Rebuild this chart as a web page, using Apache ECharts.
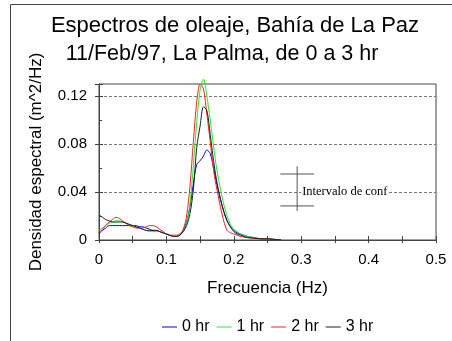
<!DOCTYPE html>
<html>
<head>
<meta charset="utf-8">
<script src="https://cdn.jsdelivr.net/npm/echarts@6/dist/echarts.min.js"></script>
<style>html,body{margin:0;padding:0;background:#fff}#c{width:452px;height:341px}</style>
</head>
<body>
<div id="c"></div>
<script>
const freq = [0,0.005,0.01,0.015,0.02,0.025,0.03,0.035,0.04,0.045,0.05,0.055,0.06,0.065,0.07,0.075,0.08,0.085,0.09,0.095,0.1,0.105,0.11,0.115,0.12,0.125,0.13,0.135,0.14,0.145,0.15,0.155,0.16,0.165,0.17,0.175,0.18,0.185,0.19,0.195,0.2,0.205,0.21,0.215,0.22,0.23,0.24,0.25,0.26,0.27];
const hr0 = [0.005,0.008,0.010,0.012,0.012,0.012,0.012,0.012,0.012,0.012,0.012,0.012,0.011,0.011,0.010,0.009,0.008,0.008,0.007,0.006,0.005,0.004,0.003,0.003,0.004,0.008,0.015,0.028,0.047,0.063,0.066,0.070,0.075,0.072,0.060,0.046,0.034,0.024,0.016,0.011,0.008,0.006,0.005,0.004,0.003,0.002,0.001,0.001,0.0005,0.0003];
const hr1 = [0.008,0.010,0.012,0.014,0.015,0.016,0.016,0.015,0.014,0.013,0.012,0.011,0.010,0.009,0.008,0.007,0.007,0.007,0.007,0.006,0.005,0.004,0.003,0.003,0.004,0.007,0.014,0.030,0.062,0.098,0.125,0.134,0.120,0.100,0.078,0.058,0.043,0.030,0.020,0.013,0.009,0.007,0.005,0.004,0.003,0.002,0.001,0.001,0.0005,0.0003];
const hr2 = [0.006,0.009,0.012,0.015,0.017,0.019,0.018,0.016,0.014,0.012,0.011,0.010,0.010,0.010,0.011,0.012,0.012,0.011,0.009,0.007,0.005,0.004,0.004,0.004,0.005,0.009,0.020,0.045,0.082,0.115,0.130,0.126,0.105,0.082,0.058,0.042,0.028,0.016,0.008,0.006,0.005,0.004,0.003,0.0025,0.002,0.0015,0.001,0.0008,0.0005,0.0003];
const hr3 = [0.021,0.019,0.017,0.016,0.015,0.015,0.015,0.015,0.014,0.013,0.012,0.011,0.010,0.009,0.008,0.008,0.008,0.008,0.007,0.006,0.005,0.004,0.003,0.003,0.004,0.007,0.012,0.022,0.042,0.077,0.095,0.111,0.108,0.088,0.066,0.048,0.035,0.024,0.016,0.011,0.007,0.005,0.004,0.003,0.002,0.0015,0.001,0.001,0.0005,0.0003];
const seriesNames = ['0 hr','1 hr','2 hr','3 hr'];
const seriesColors = ['#0000ff','#22ee22','#ff2020','#202020'];
const xTicks = [0,0.1,0.2,0.3,0.4,0.5];
const yTicks = [0,0.04,0.08,0.12];
// confidence interval marker (data units)
const ciX = 0.294, ciTop = 0.0614, ciBottom = 0.0242, ciCapHigh = 0.055, ciCapLow = 0.0284, ciCapHalf = 0.025, ciLabelY = 0.04;
const ciLabel = 'Intervalo de conf';

const allSeries = [hr0,hr1,hr2,hr3];
const chart = echarts.init(document.getElementById('c'));
const font = 'Liberation Sans, Arial, sans-serif';
const option = {
  animation:false,
  backgroundColor:'#fff',
  title:[
    {text:'Espectros de oleaje, Bahía de La Paz', left:230, textAlign:'center', top:10, textStyle:{fontFamily:font,fontSize:22,fontWeight:'normal',color:'#000'}},
    {text:'11/Feb/97, La Palma, de 0 a 3 hr', left:217, textAlign:'center', top:38, textStyle:{fontFamily:font,fontSize:21.5,fontWeight:'normal',color:'#000'}}
  ],
  graphic:[{type:'rect', shape:{x:10.5,y:4.5,width:600,height:500}, style:{fill:null, stroke:'#444', lineWidth:1}, silent:true}],
  legend:{data:seriesNames, icon:'rect', left:157, top:314, itemWidth:15, itemHeight:1, itemGap:7,
    textStyle:{fontFamily:font,fontSize:16,color:'#000'}},
  grid:{left:99, right:16, top:84, bottom:101, show:true, borderColor:'#444', borderWidth:1},
  xAxis:[{
    type:'value', min:0, max:0.5, interval:0.1,
    name:'Frecuencia (Hz)', nameLocation:'middle', nameGap:40,
    nameTextStyle:{fontFamily:font,fontSize:17,color:'#000'},
    axisLine:{lineStyle:{color:'#444'}},
    axisTick:{inside:true,length:4,lineStyle:{color:'#444'}},
    minorTick:{show:true,splitNumber:2,length:4,lineStyle:{color:'#444'}},
    axisLabel:{fontFamily:font,fontSize:15,color:'#000',margin:12,formatter:v=>xTicks.includes(+v.toFixed(2))?String(+v.toFixed(2)):''},
    splitLine:{show:false}
  },{
    type:'value', min:0, max:0.5, interval:0.05, position:'bottom',
    axisLine:{show:false}, axisTick:{inside:false,length:3,lineStyle:{color:'#444'}},
    axisLabel:{show:false}, splitLine:{show:false}
  }],
  yAxis:[{
    type:'value', min:0, max:0.13, interval:0.04,
    name:'Densidad espectral (m^2/Hz)', nameLocation:'middle', nameGap:54,
    nameTextStyle:{fontFamily:font,fontSize:17,color:'#000'},
    axisLine:{lineStyle:{color:'#444'}},
    axisTick:{inside:true,length:4,lineStyle:{color:'#444'}},
    minorTick:{show:true,splitNumber:2,length:3,lineStyle:{color:'#444'}},
    axisLabel:{fontFamily:font,fontSize:15,color:'#000',margin:12,showMaxLabel:false,formatter:v=>yTicks.includes(+v.toFixed(2))?String(+v.toFixed(2)):''},
    splitLine:{show:true,showMinLine:false,showMaxLine:false,lineStyle:{color:'#777',type:[3,2],width:1}}
  },{
    type:'value', min:0, max:0.13, interval:0.04, position:'left',
    axisLine:{show:false}, axisTick:{inside:false,length:4,lineStyle:{color:'#444'}},
    axisLabel:{show:false}, splitLine:{show:false}
  }],
  series: allSeries.map((arr,i)=>({
    name:seriesNames[i], type:'line', symbol:'none', smooth:0.3, clip:false,
    color:seriesColors[i], lineStyle:{width:1, color:seriesColors[i]},
    data: freq.map((f,j)=>[f,arr[j]]), z:3+i
  })).concat([{
    type:'custom', name:'ci', z:10, silent:true,
    data:[[ciX, ciTop, ciBottom, ciCapHigh, ciCapLow, ciCapHalf, ciLabelY]],
    renderItem:function(params, api){
      const x = api.value(0);
      const pTop = api.coord([x, api.value(1)]);
      const pBot = api.coord([x, api.value(2)]);
      const h = api.value(5);
      const c1a = api.coord([x-h, api.value(3)]), c1b = api.coord([x+h, api.value(3)]);
      const c2a = api.coord([x-h, api.value(4)]), c2b = api.coord([x+h, api.value(4)]);
      const lab = api.coord([x, api.value(6)]);
      const st = {stroke:'#555', lineWidth:1};
      return {type:'group', children:[
        {type:'line', shape:{x1:pTop[0],y1:pTop[1],x2:pBot[0],y2:pBot[1]}, style:st},
        {type:'line', shape:{x1:c1a[0],y1:c1a[1],x2:c1b[0],y2:c1b[1]}, style:st},
        {type:'line', shape:{x1:c2a[0],y1:c2a[1],x2:c2b[0],y2:c2b[1]}, style:st},
        {type:'text', x:lab[0]+4, y:lab[1], style:{text:ciLabel, fill:'#000', font:'12.5px "Liberation Serif", "Times New Roman", serif', verticalAlign:'middle', align:'left', backgroundColor:'#fff', padding:[0,1]}}
      ]};
    }
  }])
};
chart.setOption(option);
</script>
</body>
</html>
